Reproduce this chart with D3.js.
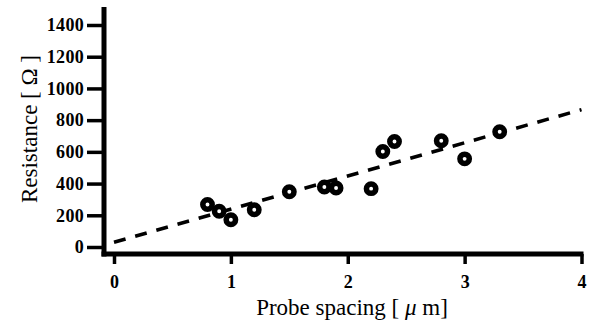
<!DOCTYPE html>
<html>
<head>
<title>Resistance vs probe spacing</title>
<script src="https://d3js.org/d3.v7.min.js"></script>
<style>
body { margin: 0; background: #fff; }
</style>
</head>
<body>
<div id="chart"></div>
<script>
var spacing = [0.8, 0.9, 1.0, 1.2, 1.5, 1.8, 1.9, 2.2, 2.3, 2.4, 2.8, 3.0, 3.3];
var resistance = [268, 225, 172, 235, 348, 378, 372, 368, 602, 665, 670, 556, 727];
var fitLine = [[0, 30], [4, 866]];
var xTicks = [0, 1, 2, 3, 4];
var yTicks = [0, 200, 400, 600, 800, 1000, 1200, 1400];

var width = 592, height = 324;
var serif = "'Liberation Serif', 'Times New Roman', serif";

var svg = d3.select("#chart").append("svg")
  .attr("width", width)
  .attr("height", height);

var x = d3.scaleLinear().domain([0, 4]).range([114, 581.5]);
var y = d3.scaleLinear().domain([0, 1400]).range([247, 25]);

var axisX = 104;   // y axis spine sits left of x = 0
var axisY = 254;   // x axis spine sits below y = 0

// y axis
var yAxis = svg.append("g")
  .attr("transform", "translate(" + axisX + ",0)")
  .call(d3.axisLeft(y).tickValues(yTicks).tickFormat(d3.format("d"))
    .tickSize(17).tickPadding(3).tickSizeOuter(0));
yAxis.select(".domain").remove();
yAxis.selectAll("line").attr("stroke", "#000").attr("stroke-width", 3.5);
yAxis.selectAll("text")
  .attr("font-family", serif)
  .attr("font-weight", "bold")
  .attr("font-size", 18)
  .attr("letter-spacing", 0.3)
  .attr("fill", "#000");

// x axis
var xAxis = svg.append("g")
  .attr("transform", "translate(0," + axisY + ")")
  .call(d3.axisBottom(x).tickValues(xTicks).tickFormat(d3.format("d"))
    .tickSize(10).tickPadding(11).tickSizeOuter(0));
xAxis.select(".domain").remove();
xAxis.selectAll("line").attr("stroke", "#000").attr("stroke-width", 3.5);
xAxis.selectAll("text")
  .attr("font-family", serif)
  .attr("font-weight", "bold")
  .attr("font-size", 18)
  .attr("fill", "#000");

// spines
svg.append("line")
  .attr("x1", axisX).attr("x2", axisX)
  .attr("y1", 7).attr("y2", axisY + 2.5)
  .attr("stroke", "#000").attr("stroke-width", 5);
svg.append("line")
  .attr("x1", axisX - 2.5).attr("x2", x(4) + 2)
  .attr("y1", axisY).attr("y2", axisY)
  .attr("stroke", "#000").attr("stroke-width", 5);

// dashed fit
svg.append("path")
  .datum(fitLine)
  .attr("d", d3.line().x(function(d) { return x(d[0]); }).y(function(d) { return y(d[1]); }))
  .attr("fill", "none")
  .attr("stroke", "#000")
  .attr("stroke-width", 3.5)
  .attr("stroke-dasharray", "12,10");

// data points
svg.selectAll(".pt")
  .data(spacing)
  .enter()
  .append("circle")
  .attr("class", "pt")
  .attr("cx", function(d) { return x(d); })
  .attr("cy", function(d, i) { return y(resistance[i]); })
  .attr("r", 4.7)
  .attr("fill", "#fff")
  .attr("stroke", "#000")
  .attr("stroke-width", 5.5);

// titles
svg.append("text")
  .attr("x", 352).attr("y", 315)
  .attr("text-anchor", "middle")
  .attr("font-family", serif)
  .attr("font-size", 23)
  .attr("fill", "#000")
  .html("Probe spacing [ <tspan font-style='italic'>\u03bc</tspan> m]");

svg.append("text")
  .attr("transform", "translate(37,129) rotate(-90)")
  .attr("text-anchor", "middle")
  .attr("font-family", serif)
  .attr("font-size", 23)
  .attr("fill", "#000")
  .text("Resistance [ \u03a9 ]");
</script>
</body>
</html>
